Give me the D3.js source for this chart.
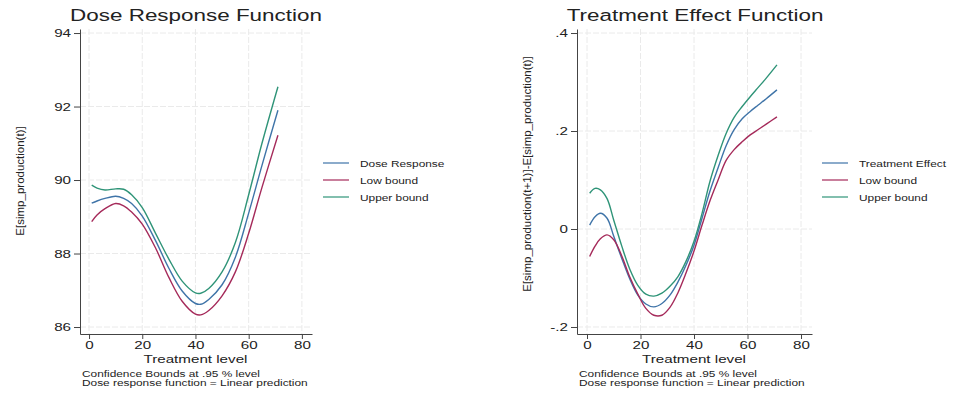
<!DOCTYPE html>
<html>
<head>
<meta charset="utf-8">
<script src="https://cdn.jsdelivr.net/npm/d3@7/dist/d3.min.js"></script>
<style>
	body { margin: 0; background: #fff; }
	svg text { font-family: "Liberation Sans", Arial, sans-serif; fill: #222; }
</style>
</head>
<body>
<svg id="chart" width="960" height="396"></svg>
<script>

// ---- dose response panel ----
dose_t = [1, 3, 6, 10, 13, 16, 20, 25, 30, 35, 40, 42, 45, 50, 55, 60, 65, 71]
dose_mid = [89.37, 89.43, 89.50, 89.56, 89.50, 89.36, 89.02, 88.35, 87.60, 86.98, 86.64, 86.62, 86.75, 87.15, 87.90, 89.10, 90.40, 91.90]
dose_low = [88.87, 89.05, 89.22, 89.36, 89.30, 89.13, 88.80, 88.15, 87.35, 86.70, 86.35, 86.33, 86.45, 86.85, 87.50, 88.55, 89.80, 91.22]
dose_up = [89.86, 89.78, 89.73, 89.76, 89.75, 89.60, 89.25, 88.55, 87.85, 87.25, 86.93, 86.92, 87.05, 87.50, 88.30, 89.60, 91.00, 92.54]
dose_yticks = [86, 88, 90, 92, 94]
dose_ylabels = ['86', '88', '90', '92', '94']

// ---- treatment effect panel ----
te_t = [1, 3, 5, 7.5, 10, 13, 16, 19, 22, 25, 28, 31, 34, 37, 40, 43, 46, 49, 52, 55, 58, 61, 64, 67, 71]
te_mid = [0.008, 0.025, 0.032, 0.022, -0.015, -0.060, -0.102, -0.135, -0.153, -0.159, -0.152, -0.135, -0.108, -0.074, -0.033, 0.022, 0.078, 0.125, 0.170, 0.203, 0.225, 0.240, 0.253, 0.266, 0.284]
te_low = [-0.056, -0.035, -0.020, -0.012, -0.022, -0.055, -0.098, -0.133, -0.162, -0.176, -0.176, -0.160, -0.130, -0.090, -0.045, 0.008, 0.058, 0.100, 0.140, 0.162, 0.178, 0.192, 0.203, 0.214, 0.229]
te_up = [0.073, 0.083, 0.080, 0.062, 0.018, -0.035, -0.082, -0.115, -0.133, -0.137, -0.131, -0.117, -0.097, -0.066, -0.025, 0.032, 0.098, 0.150, 0.195, 0.228, 0.250, 0.270, 0.289, 0.308, 0.335]
te_yticks = [-0.2, 0, 0.2, 0.4]
te_ylabels = ['-.2', '0', '.2', '.4']

xticks = [0, 20, 40, 60, 80]
notes = ['Confidence Bounds at .95 % level', 'Dose response function = Linear prediction']
series_colors = ['#3f74a8', '#a52a5a', '#2f9478']

svg = d3.select('#chart')
stretch = 1.32

function stext(g, x, y, txt, size, anchor) {
	return g.append('text')
		.attr('transform', 'translate(' + x + ',' + y + ') scale(' + stretch + ',1)')
		.attr('font-size', size)
		.attr('text-anchor', anchor || 'start')
		.text(txt)
}

function draw_panel(p) {

	g = svg.append('g')

	xs = d3.scaleLinear().domain(p.xdom).range([p.left, p.right])
	ys = d3.scaleLinear().domain(p.ydom).range([334, 29])

	// grid
	g.selectAll('.vg').data(xticks).enter().append('line')
		.attr('x1', function(d) {return xs(d)}).attr('x2', function(d) {return xs(d)})
		.attr('y1', 29).attr('y2', 334)
		.attr('stroke', '#eaeaea').attr('stroke-width', 1)
		.attr('stroke-dasharray', '6,2')
	g.selectAll('.hg').data(p.yticks).enter().append('line')
		.attr('y1', function(d) {return ys(d)}).attr('y2', function(d) {return ys(d)})
		.attr('x1', p.left).attr('x2', p.right)
		.attr('stroke', '#eaeaea').attr('stroke-width', 1)
		.attr('stroke-dasharray', '6,2')

	// axes
	xa = g.append('g')
		.attr('transform', 'translate(0,334)')
		.call(d3.axisBottom(xs).tickValues(xticks).tickSize(5).tickSizeOuter(0).tickFormat(d3.format('d')))
	xa.selectAll('text')
		.attr('font-size', 11.5)
		.attr('y', 7)
		.attr('transform', 'scale(' + stretch + ',1)')
	ya = g.append('g')
		.attr('transform', 'translate(' + p.left + ',0)')
		.call(d3.axisLeft(ys).tickValues(p.yticks).tickSize(6).tickSizeOuter(0)
			.tickFormat(function(d, i) {return p.ylabels[i]}))
	ya.selectAll('text')
		.attr('font-size', 11.5)
		.attr('x', -9 / stretch)
		.attr('transform', 'scale(' + stretch + ',1)')
	g.selectAll('.domain, .tick line').attr('stroke', '#444')
	g.selectAll('.tick text').attr('fill', '#333')

	// curves
	line = d3.line()
		.x(function(d) {return xs(d[0])})
		.y(function(d) {return ys(d[1])})
		.curve(d3.curveCatmullRom.alpha(0.5))

	p.series.forEach(function(s, i) {
		g.append('path')
			.datum(p.t.map(function(t, j) {return [t, s[j]]}))
			.attr('d', line)
			.attr('fill', 'none')
			.attr('stroke', series_colors[i])
			.attr('stroke-width', 1.4)
	})

	// texts
	stext(g, p.title_x, 21, p.title, 17, 'middle')
	stext(g, xs(40), 363, 'Treatment level', 11.5, 'middle')
	stext(g, p.left + 2, 377, notes[0], 9, 'start')
	stext(g, p.left + 2, 386, notes[1], 9, 'start')

	g.append('text')
		.attr('transform', 'translate(' + p.ylab_x + ',' + p.ylab_y + ') rotate(-90)')
		.attr('font-size', 11.5)
		.attr('text-anchor', 'middle')
		.text(p.ylabel)

	// legend
	p.legend.forEach(function(name, i) {
		ly = 163 + i * 17
		g.append('line')
			.attr('x1', p.leg_x).attr('x2', p.leg_x + 26)
			.attr('y1', ly).attr('y2', ly)
			.attr('stroke', series_colors[i]).attr('stroke-width', 1.2)
		stext(g, p.leg_x + 37, ly + 3.5, name, 9, 'start')
	})
}

draw_panel({
	t: dose_t, series: [dose_mid, dose_low, dose_up],
	xdom: [-3.4, 83.8], left: 80, right: 312,
	ydom: [85.81, 94.11], yticks: dose_yticks, ylabels: dose_ylabels,
	title: 'Dose Response Function', title_x: 196,
	ylabel: 'E[simp_production(t)]', ylab_x: 24, ylab_y: 181,
	legend: ['Dose Response', 'Low bound', 'Upper bound'], leg_x: 323
})

draw_panel({
	t: te_t, series: [te_mid, te_low, te_up],
	xdom: [-3.74, 84.1], left: 577, right: 812,
	ydom: [-0.2143, 0.4082], yticks: te_yticks, ylabels: te_ylabels,
	title: 'Treatment Effect Function', title_x: 695,
	ylabel: 'E[simp_production(t+1)]-E[simp_production(t)]', ylab_x: 531, ylab_y: 174,
	legend: ['Treatment Effect', 'Low bound', 'Upper bound'], leg_x: 822
})

</script>
</body>
</html>
